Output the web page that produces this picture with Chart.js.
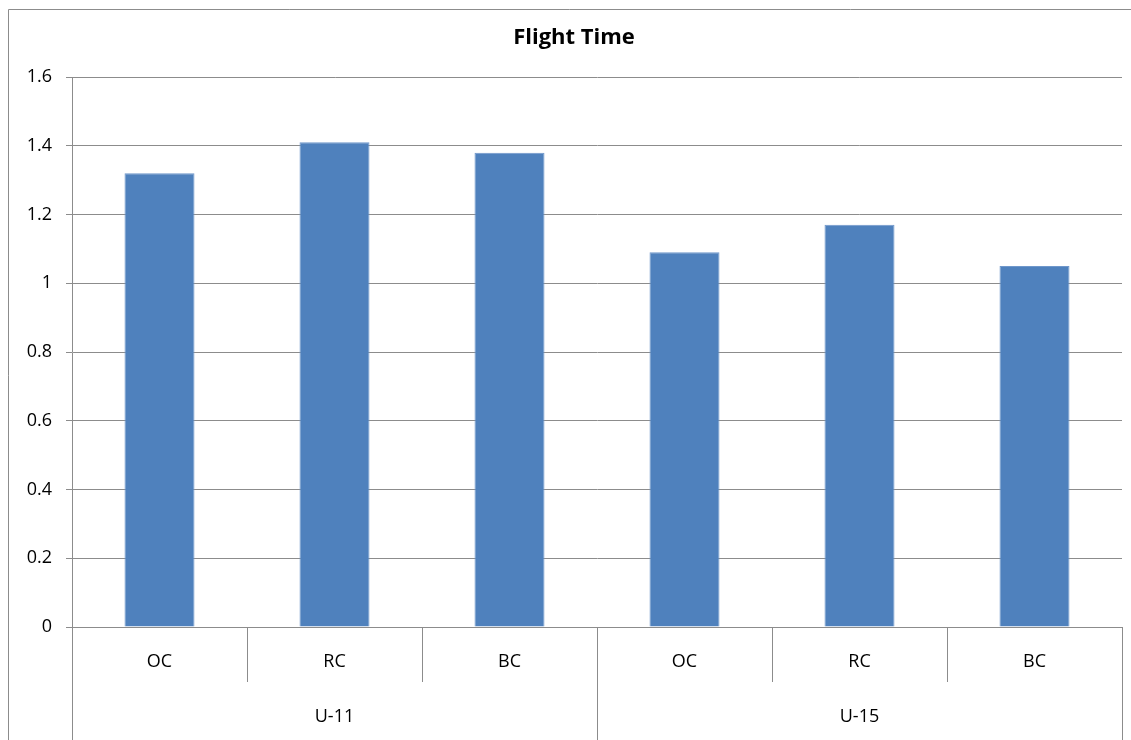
<!DOCTYPE html>
<html>
<head>
<meta charset="utf-8">
<title>Flight Time</title>
<script src="https://cdn.jsdelivr.net/npm/chart.js@4/dist/chart.umd.min.js"></script>
<style>
  html, body { margin: 0; padding: 0; background: #ffffff; }
  canvas { display: block; }
</style>
</head>
<body>
<canvas id="chart" width="1131" height="740"></canvas>
<script>
// Chart data
const chartTitle = 'Flight Time';
const categories = ['OC', 'RC', 'BC', 'OC', 'RC', 'BC'];
const groups = ['U-11', 'U-15'];
const groupSize = 3;
const flightTime = [1.32, 1.41, 1.38, 1.09, 1.17, 1.05];
const yTickLabels = ['0', '0.2', '0.4', '0.6', '0.8', '1', '1.2', '1.4', '1.6'];

const FONT = "'Open Sans', 'Liberation Sans', sans-serif";
const GRID = '#8c8c8c';
const TEXT = '#000000';

// Draws the frame, title and the two-level category axis
const decorations = {
  id: 'decorations',
  afterDraw(chart) {
    const ctx = chart.ctx;
    const x = chart.scales.x;
    const area = chart.chartArea;
    ctx.save();

    // outer frame (left and top edges)
    ctx.strokeStyle = GRID;
    ctx.lineWidth = 1;
    ctx.beginPath();
    ctx.moveTo(8.5, 760);
    ctx.lineTo(8.5, 9.5);
    ctx.lineTo(chart.width, 9.5);
    ctx.stroke();

    // title
    ctx.fillStyle = TEXT;
    ctx.font = 'bold 22px ' + FONT;
    ctx.textAlign = 'center';
    ctx.textBaseline = 'middle';
    ctx.fillText(chartTitle, 574, 38);

    // category separators
    const n = categories.length;
    const step = (area.right - area.left) / n;
    ctx.strokeStyle = GRID;
    ctx.beginPath();
    for (let i = 0; i <= n; i++) {
      const px = Math.round(area.left + i * step) + 0.5;
      const isGroupEdge = i % groupSize === 0;
      ctx.moveTo(px, area.bottom);
      ctx.lineTo(px, isGroupEdge ? chart.height : area.bottom + 55);
    }
    ctx.stroke();

    // labels
    ctx.fillStyle = TEXT;
    ctx.font = '18px ' + FONT;
    categories.forEach((c, i) => {
      ctx.fillText(c, x.getPixelForValue(i), area.bottom + 35);
    });
    groups.forEach((g, gi) => {
      const a = x.getPixelForValue(gi * groupSize);
      const b = x.getPixelForValue(gi * groupSize + groupSize - 1);
      ctx.fillText(g, (a + b) / 2, area.bottom + 90);
    });
    ctx.restore();
  }
};

new Chart(document.getElementById('chart'), {
  type: 'bar',
  data: {
    labels: categories,
    datasets: [{
      label: chartTitle,
      data: flightTime,
      backgroundColor: '#4f81bd',
      borderColor: '#6f97cb',
      borderWidth: 1,
      borderSkipped: 'bottom',
      categoryPercentage: 1,
      barPercentage: 0.4
    }]
  },
  options: {
    responsive: false,
    animation: false,
    devicePixelRatio: 1,
    layout: { padding: { left: 0, top: 77, right: 9, bottom: 0 } },
    plugins: {
      legend: { display: false },
      title: { display: false },
      tooltip: { enabled: false }
    },
    scales: {
      x: {
        grid: { display: false, drawTicks: false },
        border: { color: GRID, width: 1 },
        ticks: { display: false },
        afterFit(s) { s.height = 113; }
      },
      y: {
        min: 0,
        max: 1.6,
        ticks: {
          stepSize: 0.2,
          color: TEXT,
          font: { family: FONT, size: 18 },
          padding: 14,
          callback: (v, i) => yTickLabels[i]
        },
        grid: { color: GRID, tickLength: 6, drawTicks: true },
        border: { color: GRID, width: 1 },
        afterFit(s) { s.width = 72; }
      }
    }
  },
  plugins: [decorations]
});
</script>
</body>
</html>
